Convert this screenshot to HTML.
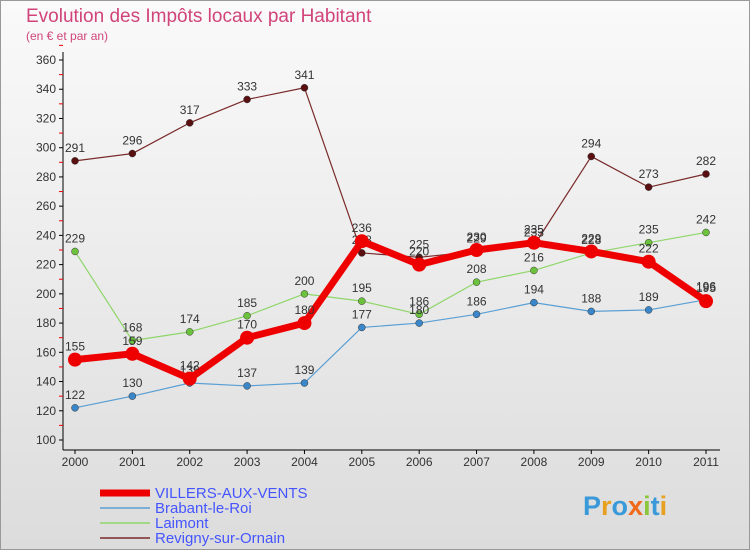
<!DOCTYPE html>
<html><head><meta charset="utf-8"><style>
body{margin:0;width:750px;height:550px;overflow:hidden;font-family:"Liberation Sans",sans-serif}
</style></head><body>
<svg width="750" height="550" id="svg" xmlns="http://www.w3.org/2000/svg">
<defs><linearGradient id="bg" x1="0" y1="0" x2="0" y2="1"><stop offset="0" stop-color="#fafafa"/><stop offset="1" stop-color="#dcdcdc"/></linearGradient></defs>
<rect x="0.5" y="0.5" width="749" height="549" fill="url(#bg)" stroke="#999"/>
<text x="26" y="22" font-size="19" fill="#d0447a">Evolution des Impôts locaux par Habitant</text>
<text x="26" y="40" font-size="12" fill="#d0447a">(en € et par an)</text>
<g id="axes"></g><g id="series"></g><g id="legend"></g>
<text x="583" y="515" font-size="27" font-weight="bold"><tspan fill="#3a9ad9">P</tspan><tspan fill="#e8a020">r</tspan><tspan fill="#3a9ad9">o</tspan><tspan fill="#f06a1c">x</tspan><tspan fill="#8cc63c">i</tspan><tspan fill="#3a9ad9">t</tspan><tspan fill="#e8a020">i</tspan></text>
</svg>
<script>
const years=[2000,2001,2002,2003,2004,2005,2006,2007,2008,2009,2010,2011];
const villers=[155,159,142,170,180,236,220,230,235,229,222,195];
const brabant=[122,130,139,137,139,177,180,186,194,188,189,196];
const laimont=[229,168,174,185,200,195,186,208,216,228,235,242];
const revigny=[291,296,317,333,341,228,225,229,233,294,273,282];
const yTicks=[100,120,140,160,180,200,220,240,260,280,300,320,340,360];
const names=["VILLERS-AUX-VENTS","Brabant-le-Roi","Laimont","Revigny-sur-Ornain"];
const NS="http://www.w3.org/2000/svg";
const xs=i=>75+i*(706-75)/(years.length-1);
const ys=v=>440-(v-100)*380/260;
function mk(p,t,a){const e=document.createElementNS(NS,t);for(const k in a)e.setAttribute(k,a[k]);p.appendChild(e);return e;}
const ax=document.getElementById('axes');
let l=mk(ax,'line',{x1:63,y1:52,x2:63,y2:450,stroke:'#000'});


l=mk(ax,'line',{x1:63,y1:450,x2:720,y2:450,stroke:'#000'});


yTicks.forEach(v=>{const y=ys(v);
 mk(ax,'line',{x1:59,y1:y,x2:63,y2:y,stroke:'#000'});
 mk(ax,'line',{x1:59,y1:ys(v+10),x2:63,y2:ys(v+10),stroke:'#e00'});
 const t=mk(ax,'text',{x:56,y:y+4,'font-size':12,'text-anchor':'end',fill:'#333'});t.textContent=v;
 
 });
years.forEach((yr,i)=>{const x=xs(i);
 mk(ax,'line',{x1:x,y1:450,x2:x,y2:454,stroke:'#000'});
 const t=mk(ax,'text',{x:x,y:466,'font-size':12,'text-anchor':'middle',fill:'#333'});t.textContent=yr;
 
 });
const sg=document.getElementById('series');
const specs=[[revigny,'#7a2a2a','#5a1010',1.2,3.5,'revigny'],[laimont,'#8fd66a','#6cc23c',1.2,3.5,'laimont'],[brabant,'#5a9fd4','#3a86c8',1.2,3.5,'brabant'],[villers,'#ee0000','#ee0000',7,7,'villers']];
specs.forEach(([d,c,fc,w,r,n])=>{
 const g=mk(sg,'g',{});
 
 
 const pl=mk(g,'polyline',{points:d.map((v,i)=>xs(i)+','+ys(v)).join(' '),fill:'none',stroke:c,'stroke-width':w,'stroke-linejoin':'round'});
 
 
 d.forEach((v,i)=>{const p=mk(g,'circle',{cx:xs(i),cy:ys(v),r:r,fill:fc,stroke:n=='villers'?'none':'#333','stroke-width':0.5});
  
  
  const t=mk(g,'text',{x:xs(i),y:ys(v)-9,'font-size':12,'text-anchor':'middle',fill:'#333'});t.textContent=v;
  
  });
});
const lg=document.getElementById('legend');
const lc=['#ee0000','#5a9fd4','#8fd66a','#7a2a2a'],lw=[7,1.5,1.5,1.5];
names.forEach((nm,i)=>{const y=493+i*15;
 const ll=mk(lg,'line',{x1:100,y1:y,x2:150,y2:y,stroke:lc[i],'stroke-width':lw[i]});
 
 
 const t=mk(lg,'text',{x:155,y:y+5,'font-size':15,fill:'#4455ff'});t.textContent=nm;
 
 });
</script>
</body></html>
